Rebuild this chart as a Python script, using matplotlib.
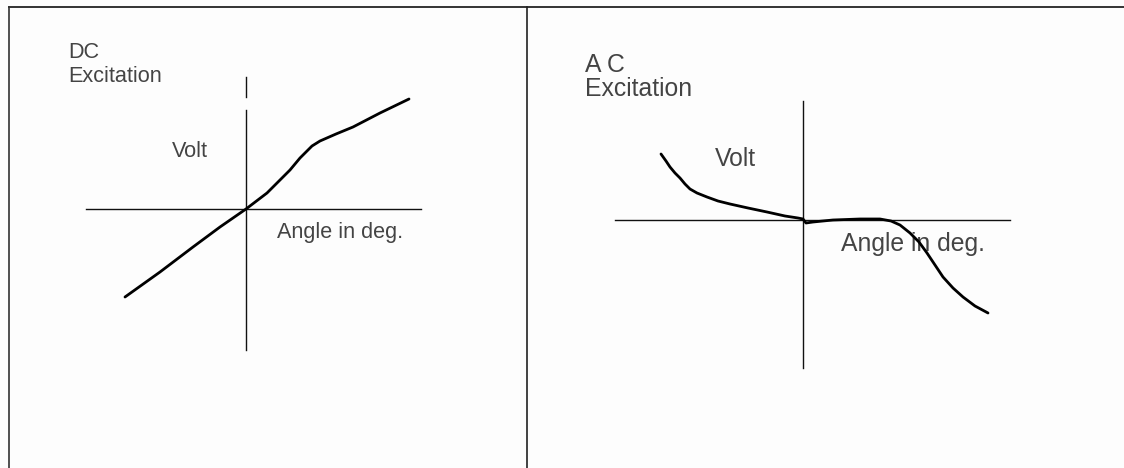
import matplotlib
matplotlib.use("Agg")
import matplotlib.pyplot as plt

plt.rcParams.update({
    "font.family": ["Liberation Sans", "DejaVu Sans"],
})

W, H, DPI = 1124, 468, 100

# ---- data (pixel units relative to the axis crossing, y up) ----
dc_angle = [-121, -86, -53, -26, 0, 21, 44, 54, 60, 66, 74, 90, 107, 134, 163]
dc_volt = [-88, -63, -38, -18, 0, 16, 39, 51, 57, 63, 68, 75, 82, 96, 110]

ac_angle = [-142, -137, -133, -128, -123, -118, -113, -106, -96, -85, -73,
            -55, -36, -18, -5, 0, 3, 10, 30, 57, 77, 88, 97, 107, 116, 124,
            132, 140, 150, 160, 172, 185]
ac_volt = [66, 59, 53, 47, 42, 36, 31, 27, 23, 19, 16,
           12, 8, 4, 2, 1, -3, -2, 0, 1, 1, -1, -5, -13, -22, -33,
           -45, -57, -68, -77, -86, -93]

TXT = "#444444"
LINE = "#111111"


def panel(fig, px0, px1, ox, oy):
    """Axes covering pixel columns px0..px1 (rows 8..H), origin at (ox, oy)."""
    ax = fig.add_axes([px0 / W, 0, (px1 - px0) / W, (H - 8) / H])
    ax.set_xlim(px0 - ox, px1 - ox)
    ax.set_ylim(oy - H, oy - 8)
    ax.axis("off")
    return ax


fig = plt.figure(figsize=(W / DPI, H / DPI), dpi=DPI)
fig.patch.set_facecolor("#fdfdfd")

# background layer in pixel coords: table frame + labels
bg = fig.add_axes([0, 0, 1, 1])
bg.set_xlim(0, W)
bg.set_ylim(H, 0)
bg.axis("off")
bg.plot([9, W], [7, 7], color="#333333", lw=1.4)
bg.plot([9, 9], [7, H], color="#333333", lw=1.2)
bg.plot([527, 527], [7, H], color="#222222", lw=1.2)

LS, RS = 15.6, 17.8
bg.text(68, 58, "DC", fontsize=LS, color=TXT, va="baseline")
bg.text(68, 82, "Excitation", fontsize=LS, color=TXT, va="baseline")
bg.text(172, 157, "Volt", fontsize=LS, color=TXT, va="baseline")
bg.text(277, 238, "Angle in deg.", fontsize=LS, color=TXT, va="baseline")

bg.text(585, 72, "A C", fontsize=RS, color=TXT, va="baseline")
bg.text(585, 96, "Excitation", fontsize=RS, color=TXT, va="baseline")
bg.text(715, 166, "Volt", fontsize=RS, color=TXT, va="baseline")
bg.text(841, 251, "Angle in deg.", fontsize=RS, color=TXT, va="baseline")

# ---- DC panel ----
ax1 = panel(fig, 10, 526, 246, 209)
ax1.plot([-160, 175], [0, 0], color=LINE, lw=1.0)
ax1.plot([0, 0], [-141, 99], color=LINE, lw=1.0)
ax1.plot([0, 0], [112, 132], color=LINE, lw=1.0)
ax1.plot(dc_angle, dc_volt, color="#000000", lw=2.0,
         solid_capstyle="round", solid_joinstyle="round")

# ---- AC panel ----
ax2 = panel(fig, 528, W, 803, 220)
ax2.plot([-188, 207], [0, 0], color=LINE, lw=1.0)
ax2.plot([0, 0], [-148, 119], color=LINE, lw=1.0)
ax2.plot(ac_angle, ac_volt, color="#000000", lw=2.0,
         solid_capstyle="round", solid_joinstyle="round")

fig.savefig("out.png", dpi=DPI, facecolor=fig.get_facecolor())
